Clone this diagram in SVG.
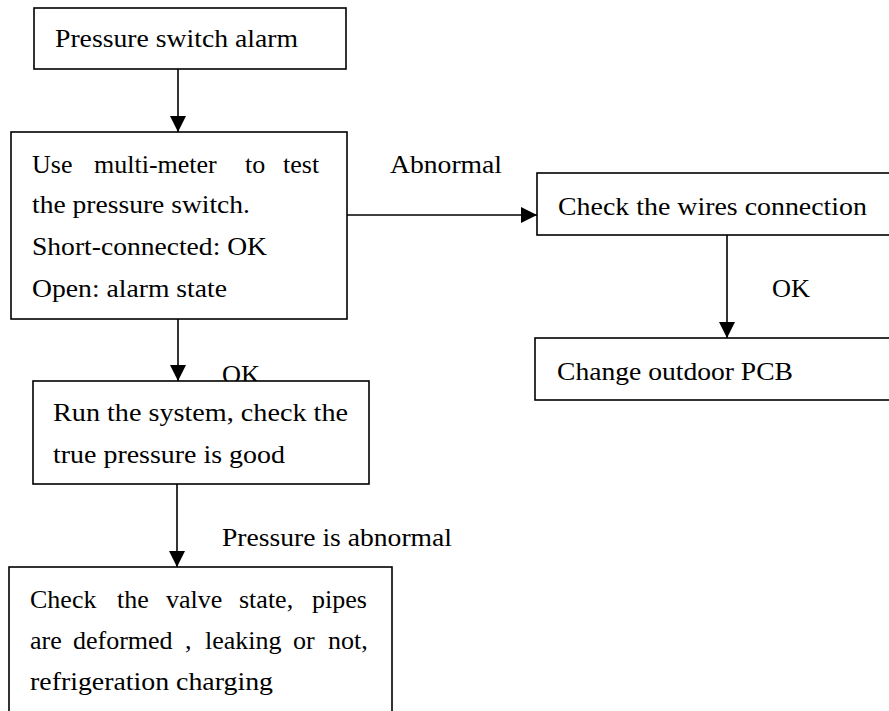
<svg xmlns="http://www.w3.org/2000/svg" width="889" height="711" viewBox="0 0 889 711">
<style>
.box{fill:#fff;stroke:#000;stroke-width:1.6}
.t{font-family:"Liberation Serif","Times New Roman",serif;font-size:26px;fill:#000}
.c{fill:none;stroke:#000;stroke-width:1.6}
</style>
<defs>
<marker id="ah" markerUnits="userSpaceOnUse" markerWidth="16" markerHeight="16" viewBox="0 0 16 16" refX="16" refY="8" orient="auto">
<path d="M0,0 L16,8 L0,16 Z" fill="#000"/>
</marker>
</defs>
<rect width="889" height="711" fill="#fff"/>
<g id="connectors">
<line class="c" x1="178" y1="69" x2="178" y2="132" marker-end="url(#ah)"/>
<line class="c" x1="347" y1="215" x2="537" y2="215" marker-end="url(#ah)"/>
<line class="c" x1="727" y1="235" x2="727" y2="338" marker-end="url(#ah)"/>
<line class="c" x1="178" y1="319" x2="178" y2="381" marker-end="url(#ah)"/>
<line class="c" x1="177" y1="484" x2="177" y2="567" marker-end="url(#ah)"/>
<text class="t" x="390" y="173" textLength="112" lengthAdjust="spacingAndGlyphs">Abnormal</text>
<text class="t" x="772" y="297" textLength="38" lengthAdjust="spacingAndGlyphs">OK</text>
<text class="t" x="222" y="382.5" textLength="38" lengthAdjust="spacingAndGlyphs">OK</text>
<text class="t" x="222" y="546" textLength="230" lengthAdjust="spacingAndGlyphs">Pressure is abnormal</text>
</g>
<g id="n1">
<rect class="box" x="34" y="8" width="312" height="61"/>
<text class="t" x="55" y="47" textLength="243" lengthAdjust="spacingAndGlyphs">Pressure switch alarm</text>
</g>
<g id="n2">
<rect class="box" x="11" y="132" width="336" height="187"/>
<text class="t" y="173"><tspan x="32">Use</tspan><tspan x="94">multi-meter</tspan><tspan x="245">to</tspan><tspan x="283">test</tspan></text>
<text class="t" x="32" y="213" textLength="218" lengthAdjust="spacingAndGlyphs">the pressure switch.</text>
<text class="t" x="32" y="255" textLength="235" lengthAdjust="spacingAndGlyphs">Short-connected: OK</text>
<text class="t" x="32" y="297" textLength="195" lengthAdjust="spacingAndGlyphs">Open: alarm state</text>
</g>
<g id="n3">
<rect class="box" x="537" y="173" width="400" height="62"/>
<text class="t" x="558" y="215" textLength="309" lengthAdjust="spacingAndGlyphs">Check the wires connection</text>
</g>
<g id="n4">
<rect class="box" x="535" y="338" width="400" height="62"/>
<text class="t" x="557" y="380" textLength="236" lengthAdjust="spacingAndGlyphs">Change outdoor PCB</text>
</g>
<g id="n5">
<rect class="box" x="33" y="381" width="336" height="103"/>
<text class="t" x="53" y="421" textLength="295" lengthAdjust="spacingAndGlyphs">Run the system, check the</text>
<text class="t" x="53" y="463" textLength="232" lengthAdjust="spacingAndGlyphs">true pressure is good</text>
</g>
<g id="n6">
<rect class="box" x="9" y="567" width="383" height="200"/>
<text class="t" y="608"><tspan x="30">Check</tspan><tspan x="117">the</tspan><tspan x="166">valve</tspan><tspan x="239">state,</tspan><tspan x="312">pipes</tspan></text>
<text class="t" y="649"><tspan x="30">are</tspan><tspan x="73">deformed</tspan><tspan x="185">,</tspan><tspan x="205">leaking</tspan><tspan x="293">or</tspan><tspan x="328">not,</tspan></text>
<text class="t" x="30" y="690" textLength="243" lengthAdjust="spacingAndGlyphs">refrigeration charging</text>
</g>
</svg>
